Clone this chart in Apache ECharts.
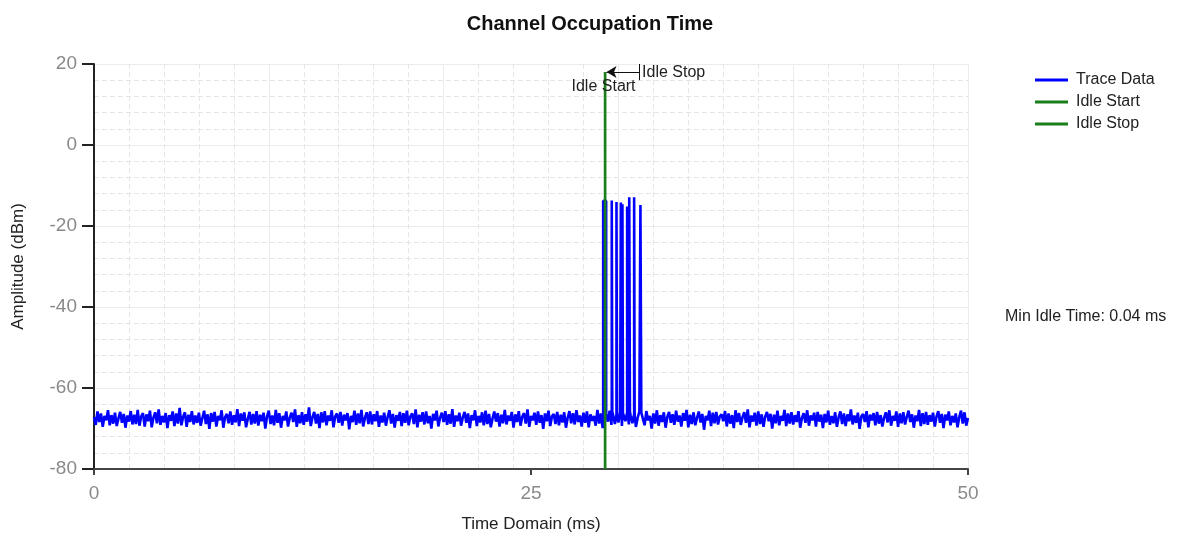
<!DOCTYPE html>
<html>
<head>
<meta charset="utf-8">
<script src="https://cdn.jsdelivr.net/npm/echarts@6/dist/echarts.min.js"></script>
<style>
html,body{margin:0;padding:0;background:#fff;}
#chart{width:1180px;height:537px;}
</style>
</head>
<body>
<div id="chart"></div>
<script>
// ---- data ----
const chartTitle = 'Channel Occupation Time';
const xAxisName = 'Time Domain (ms)';
const yAxisName = 'Amplitude (dBm)';
const seriesNames = ['Trace Data', 'Idle Start', 'Idle Stop'];
const xTicks = [0, 25, 50];
const yTicks = [-80, -60, -40, -20, 0, 20];
const minIdleText = 'Min Idle Time: 0.04 ms';

// trace noise floor, one sample every 0.1 ms from 0 to 50 ms (dBm)
const sampleStep = 0.1;
const traceNoise = [
-67.2,-69.1,-65.8,-68.4,-66.3,-69.6,-66.9,-68.0,-65.5,-69.2,-66.7,-68.8,-66.1,-69.4,-67.5,-65.9,-68.6,-66.4,-69.8,-66.8,
-68.3,-65.7,-69.0,-66.6,-68.9,-65.4,-69.3,-67.0,-66.2,-69.5,-66.5,-68.2,-65.6,-69.7,-67.3,-66.0,-68.7,-65.3,-69.1,-66.9,
-68.5,-66.2,-69.9,-66.7,-68.1,-65.8,-69.4,-66.3,-68.8,-64.9,-69.2,-67.1,-66.0,-69.6,-66.6,-68.4,-65.7,-69.0,-66.8,-68.6,
-66.1,-69.3,-67.4,-65.6,-68.9,-66.5,-70.1,-66.2,-68.3,-65.9,-69.5,-66.9,-68.0,-65.5,-69.8,-67.2,-66.4,-68.7,-65.8,-69.1,
-66.7,-68.5,-65.2,-69.4,-66.3,-68.1,-66.0,-69.7,-67.6,-65.9,-69.0,-66.4,-68.8,-65.7,-69.3,-66.6,-68.2,-66.1,-70.0,-67.0,
-65.6,-68.9,-66.8,-69.2,-65.4,-68.6,-66.2,-69.8,-66.9,-68.0,-65.8,-69.5,-67.3,-66.1,-68.4,-65.3,-69.6,-66.7,-68.7,-66.0,
-69.1,-66.5,-68.3,-64.8,-69.4,-67.2,-65.9,-68.8,-66.4,-69.9,-66.0,-68.5,-65.7,-69.2,-66.8,-68.1,-65.5,-69.7,-67.0,-66.3,
-68.6,-65.9,-69.3,-66.6,-68.0,-66.2,-70.2,-66.9,-68.4,-65.6,-69.1,-66.3,-68.7,-65.4,-69.5,-67.4,-66.0,-68.9,-65.8,-69.0,
-66.5,-68.2,-65.7,-69.6,-66.8,-68.5,-66.1,-69.3,-67.1,-65.5,-68.8,-66.4,-69.8,-66.7,-68.1,-65.9,-69.4,-66.2,-68.6,-65.6,
-69.2,-67.0,-66.3,-68.9,-65.3,-69.7,-66.6,-68.3,-66.0,-69.0,-65.8,-68.7,-66.9,-70.0,-66.4,-68.0,-65.6,-69.5,-67.3,-66.1,
-68.4,-65.7,-69.1,-66.5,-68.8,-65.2,-69.6,-66.8,-68.2,-66.1,-69.3,-67.2,-65.9,-68.6,-66.3,-69.9,-66.7,-68.0,-65.5,-69.4,
-66.9,-68.5,-66.0,-69.2,-65.6,-68.9,-66.4,-69.7,-67.5,-65.8,-68.3,-66.2,-69.5,-66.6,-68.7,-65.4,-69.0,-66.8,-68.1,-65.9,
-69.8,-66.5,-68.4,-65.7,-69.3,-67.1,-66.2,-68.8,-65.3,-69.6,-66.9,-68.0,-66.1,-69.1,-65.8,-68.6,-66.7,-70.1,-66.3,-68.2,
-65.6,-69.4,-67.0,-66.4,-68.9,-65.9,-69.2,-66.6,-68.5,-66.0,-69.8,-67.3,-65.7,-68.7,-66.2,-69.0,-65.5,-68.4,-66.8,-69.5,
-66.1,-68.6,-65.8,-69.7,-66.5,-68.1,-66.9,-69.3,-65.4,-68.8,-66.3,-69.9,-67.2,-66.0,-68.3,-65.6,-69.1,-66.7,-68.9,-66.2,
-68.5,-65.9,-69.4,-66.6,-68.2,-65.3,-69.0,-66.8,-68.7,-66.1,-69.6,-67.4,-65.8,-68.9,-66.4,-69.2,-65.7,-68.0,-66.9,-70.0,
-66.3,-68.8,-65.5,-69.3,-66.7,-68.4,-66.0,-69.8,-67.1,-65.9,-68.6,-66.5,-69.1,-65.6,-68.3,-66.8,-69.5,-66.2,-68.1,-65.4,
-69.7,-66.6,-68.9,-66.0,-69.2,-67.3,-65.8,-68.5,-66.4,-70.3,-66.9,-68.0,-65.6,-69.4,-66.1,-68.7,-65.9,-69.0,-67.0,-66.5,
-68.2,-65.7,-69.5,-66.3,-68.8,-66.7,-69.9,-65.5,-68.4,-66.2,-69.1,-67.2,-66.0,-68.6,-65.3,-69.7,-66.8,-68.3,-66.1,-69.3,
-65.8,-68.9,-66.5,-69.6,-67.0,-65.9,-68.2,-66.4,-70.0,-66.6,-68.7,-65.6,-69.2,-66.9,-68.1,-65.4,-69.4,-66.3,-68.8,-66.0,
-69.0,-66.7,-68.4,-65.7,-69.8,-67.4,-66.2,-68.6,-65.5,-69.3,-66.8,-68.0,-66.1,-69.5,-65.9,-68.3,-66.6,-69.9,-66.4,-68.5,
-65.6,-69.1,-66.9,-68.7,-66.0,-69.6,-67.2,-65.8,-68.9,-66.3,-69.4,-66.5,-68.2,-65.3,-69.0,-66.8,-68.6,-66.1,-70.1,-67.0,
-66.4,-68.4,-65.7,-69.7,-66.6,-68.0,-66.2,-69.2,-65.9,-68.8,-66.7,-69.5,-67.3,-66.0,-68.5,-65.5,-69.3,-66.9,-68.1,-65.8,
-69.6,-66.3,-68.7,-66.0,-69.0,-67.1,-65.6,-68.4,-66.5,-69.8,-66.8,-68.2,-65.4,-69.4,-66.2,-68.9,-65.9,-69.1,-66.7,-68.3,
-66.1,-69.5,-67.0,-65.7,-68.6,-66.4,-69.9,-66.6,-68.0,-65.8,-69.2,-66.9,-68.5,-66.3,-69.7,-67.2,-65.6,-68.8,-66.0,-69.3,
-67.4
];

// transmission bursts (ms start, ms end, peak dBm, foot level dBm)
const pulseStart = [29.13, 29.62, 29.89, 30.14, 30.23, 30.50, 30.62, 30.90, 31.26];
const pulseEnd   = [29.30, 29.65, 29.92, 30.17, 30.26, 30.53, 30.66, 30.93, 31.31];
const pulsePeak  = [-13.8, -13.7, -14.1, -14.2, -14.6, -15.2, -12.9, -12.9, -14.8];
const pulseFoot  = [-66.4, -65.9, -66.6, -65.7, -66.2, -66.0, -65.8, -66.5, -66.1];

// idle markers
const idleStart = 29.22;
const idleStop = 29.26;
const markerBottom = -80;
const markerTop = 18;
const arrowFrom = 31.2;
const arrowTo = 29.32;
const stopBarTop = 20;
const stopBarBottom = 16;
const startLabelPos = [29.15, 14.3];
const stopLabelPos = [31.27, 18];

// ---- build the trace ----
const traceData = [];
traceNoise.forEach(function (v, i) {
  const t = +(i * sampleStep).toFixed(3);
  let inside = false;
  for (let k = 0; k < pulseStart.length; k++) {
    if (t >= pulseStart[k] && t <= pulseEnd[k]) inside = true;
  }
  if (!inside) traceData.push([t, v]);
});
for (let k = 0; k < pulseStart.length; k++) {
  traceData.push([pulseStart[k], pulseFoot[k]]);
  traceData.push([pulseStart[k], pulsePeak[k]]);
  traceData.push([pulseEnd[k], pulsePeak[k]]);
  traceData.push([pulseEnd[k], pulseFoot[k]]);
}
traceData.sort(function (a, b) { return a[0] - b[0]; });

const FONT = '"Liberation Sans", Arial, sans-serif';
const chart = echarts.init(document.getElementById('chart'), null, {renderer: 'canvas'});

const option = {
  animation: false,
  backgroundColor: '#ffffff',
  textStyle: {fontFamily: FONT},
  title: {
    text: chartTitle,
    left: 'center',
    top: 9,
    textStyle: {fontFamily: FONT, fontSize: 20, fontWeight: 'bold', color: '#111'}
  },
  legend: {
    orient: 'vertical',
    left: 1035,
    top: 72,
    padding: 0,
    itemGap: 6,
    itemWidth: 33,
    itemHeight: 3,
    icon: 'rect',
    data: seriesNames,
    textStyle: {fontFamily: FONT, fontSize: 16, color: '#222', padding: [0, 0, 0, 3]}
  },
  graphic: [{
    type: 'text',
    left: 1005,
    top: 309,
    style: {text: minIdleText, font: '16px ' + FONT, fill: '#222'}
  }],
  grid: {left: 94, right: 212, top: 64, bottom: 68, containLabel: false, outerBoundsMode: 'none'},
  xAxis: [{
    type: 'value',
    min: xTicks[0], max: xTicks[xTicks.length - 1], interval: xTicks[1] - xTicks[0],
    name: xAxisName,
    nameLocation: 'middle',
    nameGap: 47,
    nameTextStyle: {fontFamily: FONT, fontSize: 17, color: '#222'},
    axisLine: {show: true, onZero: false, lineStyle: {color: '#444', width: 2}},
    axisTick: {show: true, inside: false, length: 6, lineStyle: {color: '#444', width: 2}},
    axisLabel: {color: '#8a8a8a', fontSize: 19, margin: 15, fontFamily: FONT},
    splitLine: {show: false}
  }, {
    type: 'value',
    min: 0, max: 50, interval: 10,
    position: 'bottom',
    axisLine: {show: false}, axisTick: {show: false}, axisLabel: {show: false},
    splitLine: {show: true, lineStyle: {color: '#ececec', width: 1}},
    minorTick: {show: false, splitNumber: 5},
    minorSplitLine: {show: true, lineStyle: {color: '#e6e6e6', width: 1, type: [5, 3]}}
  }],
  yAxis: [{
    type: 'value',
    min: yTicks[0], max: yTicks[yTicks.length - 1], interval: yTicks[1] - yTicks[0],
    name: yAxisName,
    nameLocation: 'middle',
    nameGap: 67,
    nameTextStyle: {fontFamily: FONT, fontSize: 17, color: '#222'},
    axisLine: {show: true, onZero: false, lineStyle: {color: '#222', width: 2}},
    axisTick: {show: true, inside: false, length: 12, lineStyle: {color: '#222', width: 2}},
    axisLabel: {color: '#8a8a8a', fontSize: 19, margin: 17, fontFamily: FONT},
    splitLine: {show: true, lineStyle: {color: '#ececec', width: 1}},
    minorTick: {show: false, splitNumber: 5},
    minorSplitLine: {show: true, lineStyle: {color: '#e6e6e6', width: 1, type: [5, 3]}}
  }],
  series: [{
    name: seriesNames[0],
    type: 'line',
    data: traceData,
    showSymbol: false,
    symbol: 'none',
    color: '#0000ff',
    lineStyle: {color: '#0000ff', width: 2.6},
    z: 2
  }, {
    name: seriesNames[1],
    type: 'line',
    data: [[idleStart, markerBottom], [idleStart, markerTop]],
    showSymbol: false,
    symbol: 'none',
    color: '#1a7f1a',
    lineStyle: {color: '#1a7f1a', width: 2},
    z: 3,
    markPoint: {
      silent: true,
      symbol: 'rect',
      symbolSize: 1,
      itemStyle: {color: 'rgba(0,0,0,0)'},
      label: {show: true, position: 'inside', color: '#222', fontSize: 16, fontFamily: FONT, formatter: seriesNames[1]},
      data: [{coord: startLabelPos}]
    }
  }, {
    name: seriesNames[2],
    type: 'line',
    data: [[idleStop, markerBottom], [idleStop, markerTop]],
    showSymbol: false,
    symbol: 'none',
    color: '#1a7f1a',
    lineStyle: {color: '#1a7f1a', width: 2},
    z: 3,
    markLine: {
      silent: true,
      animation: false,
      label: {show: false},
      lineStyle: {color: '#111', width: 1, type: 'solid'},
      symbol: ['none', 'arrow'],
      symbolSize: [9, 10],
      data: [
        [{coord: [arrowFrom, markerTop]}, {coord: [arrowTo, markerTop]}],
        [{coord: [arrowFrom, stopBarTop], symbol: 'none'}, {coord: [arrowFrom, stopBarBottom], symbol: 'none'}]
      ]
    },
    markPoint: {
      silent: true,
      symbol: 'rect',
      symbolSize: 1,
      itemStyle: {color: 'rgba(0,0,0,0)'},
      label: {show: true, position: 'right', distance: 1, color: '#222', fontSize: 16, fontFamily: FONT, formatter: seriesNames[2]},
      data: [{coord: stopLabelPos}]
    }
  }]
};
chart.setOption(option);
</script>
</body>
</html>
